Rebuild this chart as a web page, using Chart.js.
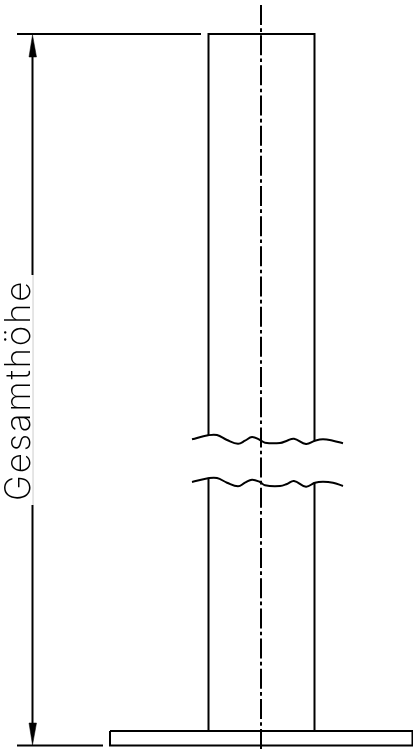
<!DOCTYPE html>
<html>
<head>
<meta charset="utf-8">
<title>Gesamthöhe</title>
<script src="https://cdn.jsdelivr.net/npm/chart.js@4"></script>
<style>
  html, body { margin: 0; padding: 0; background: #fff; }
  #wrap { width: 413px; height: 749px; }
</style>
</head>
<body>
<div id="wrap"><canvas id="drawing"></canvas></div>
<script>
// drawing units run 0-413 across and 0-749 down
const poleOutline = [[208.5, 436], [208.5, 34], [314.5, 34], [314.5, 441]];
const poleLeftLower = [[208.5, 478], [208.5, 731]];
const poleRightLower = [[314.5, 482], [314.5, 731]];
const basePlate = [[110, 731], [412.5, 731], [412.5, 745.5], [110, 745.5], [110, 731]];
const centerLine = [[261, 5], [261, 749]];
const topExtension = [[17, 34], [201, 34]];
const bottomExtension = [[17, 745.5], [103, 745.5]];
const dimUpper = [[32.5, 50], [32.5, 275]];
const dimLower = [[32.5, 505], [32.5, 725]];
const dimFaint = [[33, 275], [33, 505]];
const arrowUp = [[32.5, 35], [29, 57], [36.5, 57], [32.5, 35]];
const arrowDown = [[32.5, 745], [29, 723], [36.5, 723], [32.5, 745]];
const breakUpper = [[192, 439.3], [208, 435.3], [217, 435], [227, 440], [238, 443.7], [245, 440.7], [252, 437], [260, 440], [265, 442.7], [280, 443], [287, 440.7], [294, 438.7], [306, 444], [315, 440.7], [323, 439.3], [333, 440.7], [343, 443.3]];
const breakLower = [[192, 482], [208, 478.3], [217, 478], [227, 482.7], [238, 486.3], [245, 482.7], [252, 479.7], [260, 482], [265, 485.3], [280, 486], [287, 484], [294, 481], [306, 486.7], [315, 482.7], [323, 481.7], [333, 482.7], [343, 486]];
const dimensionLabel = 'Gesamthöhe';
const labelAnchor = [30, 501];

const toPoints = (list) => list.map(([x, y]) => ({ x, y }));

const line = (points, extra) => Object.assign({
  data: toPoints(points),
  showLine: true,
  borderColor: '#000',
  borderWidth: 2,
  pointRadius: 0,
  fill: false,
  tension: 0
}, extra);

const dimensionText = {
  id: 'dimensionText',
  afterDatasetsDraw(chart) {
    const { ctx, scales } = chart;
    ctx.save();
    ctx.translate(scales.x.getPixelForValue(labelAnchor[0]), scales.y.getPixelForValue(labelAnchor[1]));
    ctx.rotate(-Math.PI / 2);
    ctx.font = '200 35px Inter, "DejaVu Sans"';
    ctx.letterSpacing = '1.7px';
    ctx.fillStyle = '#000';
    ctx.textBaseline = 'alphabetic';
    ctx.fillText(dimensionLabel, 0, 0);
    ctx.restore();
  }
};

new Chart(document.getElementById('drawing'), {
  type: 'scatter',
  data: {
    datasets: [
      line(dimFaint, { borderColor: '#e2e2e2', borderWidth: 1 }),
      line(poleOutline),
      line(poleLeftLower),
      line(poleRightLower),
      line(basePlate),
      line(centerLine, { borderDash: [20, 3.3, 3.6, 3.27] }),
      line(topExtension),
      line(bottomExtension),
      line(dimUpper),
      line(dimLower),
      line(arrowUp, { fill: 'shape', backgroundColor: '#000', borderWidth: 0.5 }),
      line(arrowDown, { fill: 'shape', backgroundColor: '#000', borderWidth: 0.5 }),
      line(breakUpper, { tension: 0.4 }),
      line(breakLower, { tension: 0.4 })
    ]
  },
  options: {
    responsive: true,
    maintainAspectRatio: false,
    animation: false,
    layout: { padding: 0 },
    plugins: { legend: { display: false }, tooltip: { enabled: false } },
    scales: {
      x: { type: 'linear', display: false, min: 0, max: 413 },
      y: { type: 'linear', display: false, min: 0, max: 749, reverse: true }
    }
  },
  plugins: [dimensionText]
});
</script>
</body>
</html>
